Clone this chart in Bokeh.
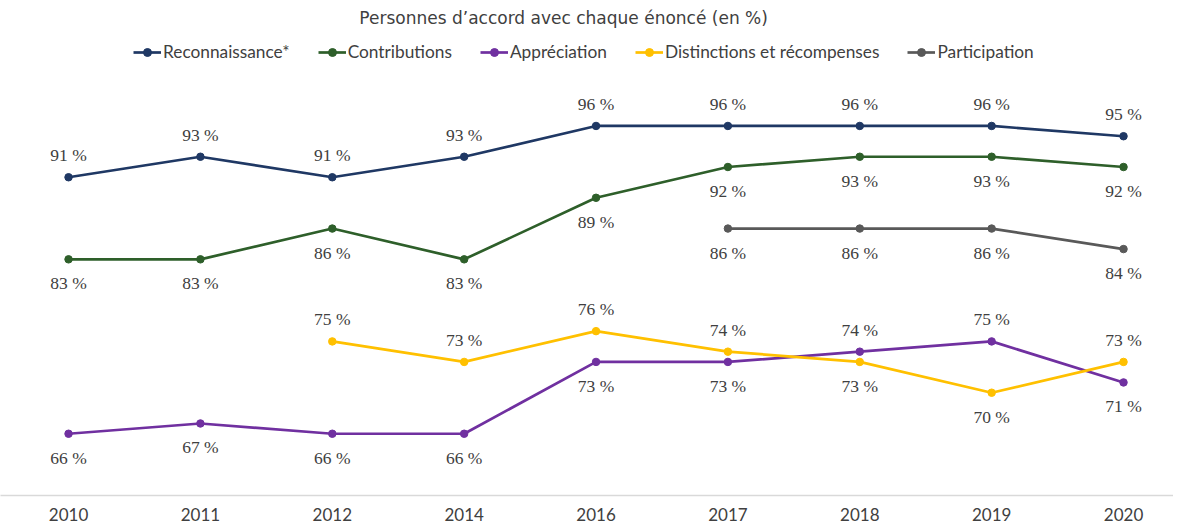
import math
from bokeh.plotting import figure
from bokeh.models import (ColumnDataSource, Range1d, FixedTicker, LabelSet, Label,
                          Legend, LegendItem)
from bokeh.embed import file_html
from bokeh.resources import INLINE

# ---------------- data ----------------
years = ["2010", "2011", "2012", "2014", "2016", "2017", "2018", "2019", "2020"]
reconnaissance = [91, 93, 91, 93, 96, 96, 96, 96, 95]
contributions = [83, 83, 86, 83, 89, 92, 93, 93, 92]
appreciation = [66, 67, 66, 66, 73, 73, 74, 75, 71]
distinctions = [None, None, 75, 73, 76, 74, 73, 70, 73]
participation = [None, None, None, None, None, 86, 86, 86, 84]
series_names = ["Reconnaissance*", "Contributions", "Appréciation",
                "Distinctions et récompenses", "Participation"]
title_text = "Personnes d’accord avec chaque énoncé (en %)"

# ---------------- styling ----------------
colors = ["#1f3864", "#2e5f2a", "#7030a0", "#ffc000", "#595959"]
# label side per point: 1 = above, -1 = below
sides = [
    [1] * 9,
    [-1] * 9,
    [-1, -1, -1, -1, -1, -1, 1, 1, -1],
    [1, 1, 1, 1, 1, 1, -1, -1, 1],
    [-1] * 9,
]
FONT = "Lato"
TXT = "#404040"

p = figure(width=1173, height=523, output_backend="svg", toolbar_location=None,
           x_range=Range1d(-0.516, 8.379), y_range=Range1d(59.98, 108.23),
           min_border_left=0, min_border_right=0, min_border_top=0,
           min_border_bottom=26)
p.outline_line_color = None
p.background_fill_color = "white"
p.border_fill_color = "white"
p.xgrid.visible = False
p.ygrid.visible = False
p.yaxis.visible = False

xs = list(range(len(years)))
p.xaxis.ticker = FixedTicker(ticks=xs)
p.xaxis.major_label_overrides = {i: y for i, y in enumerate(years)}
p.xaxis.axis_line_color = "#d9d9d9"
p.xaxis.axis_line_width = 1.5
p.xaxis.major_tick_line_color = None
p.xaxis.minor_tick_line_color = None
p.xaxis.major_label_text_font = FONT
p.xaxis.major_label_text_font_size = "17px"
p.xaxis.major_label_text_color = TXT
p.xaxis.major_label_standoff = 6

all_series = [reconnaissance, contributions, appreciation, distinctions, participation]
items = []
for name, vals, col, side in zip(series_names, all_series, colors, sides):
    yv = [float("nan") if v is None else v for v in vals]
    src = ColumnDataSource(dict(x=xs, y=yv))
    ln = p.line("x", "y", source=src, line_color=col, line_width=2.7)
    sc = p.scatter("x", "y", source=src, size=7.5, fill_color=col, line_color=col)
    items.append(LegendItem(label=name, renderers=[ln, sc]))
    lx, ly, lt, lo = [], [], [], []
    for i, v in enumerate(vals):
        if v is None:
            continue
        lx.append(i)
        ly.append(v)
        lt.append(f"{v} %")
        lo.append(22 if side[i] > 0 else -24)
    lsrc = ColumnDataSource(dict(x=lx, y=ly, t=lt, o=lo))
    p.add_layout(LabelSet(x="x", y="y", text="t", y_offset="o", source=lsrc,
                          text_align="center", text_baseline="middle",
                          text_font=FONT, text_font_size="17.5px", text_color=TXT))

legend = Legend(items=items, orientation="horizontal", location=(133, 433),
                padding=0, margin=0, spacing=28, glyph_width=28, glyph_height=20,
                label_standoff=2, label_text_font=FONT, label_text_font_size="17.3px",
                label_text_color=TXT, border_line_color=None,
                background_fill_alpha=0)
p.add_layout(legend)

p.add_layout(Label(x=3.754, y=106.5, text=title_text, text_align="center",
                   text_baseline="middle", text_font="DejaVu Sans",
                   text_font_size="17px", text_color="#404040"))

open("out.html", "w").write(file_html(p, INLINE))
